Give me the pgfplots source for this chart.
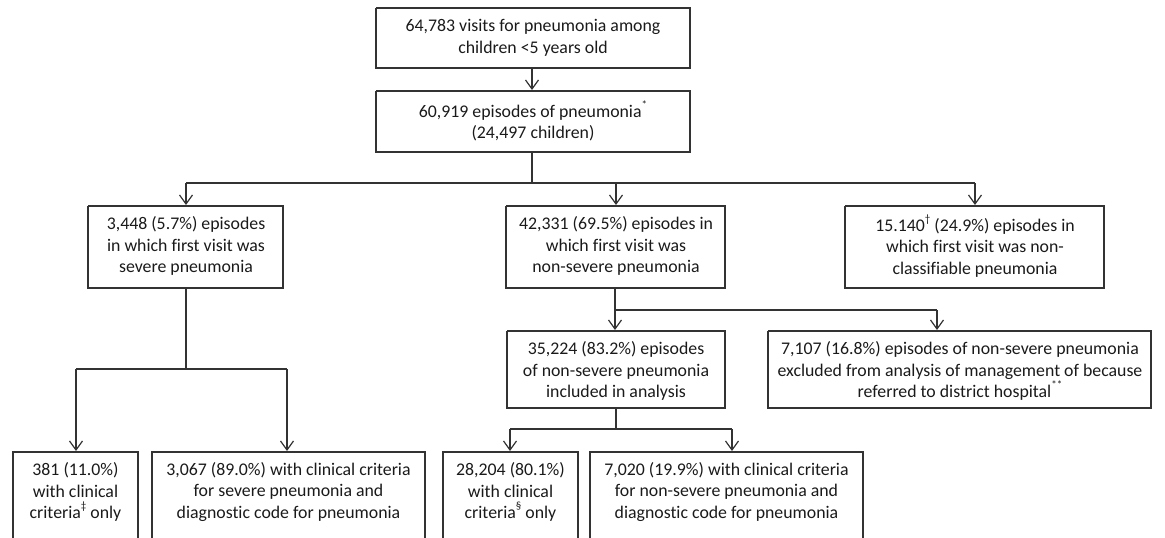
\documentclass[border=0pt]{standalone}
\usepackage{fontspec}
\setmainfont{Carlito}[Ligatures=NoCommon]
\usepackage{pgfplots}
\pgfplotsset{compat=1.18}
\usetikzlibrary{arrows.meta}
\definecolor{ln}{HTML}{333333}
\definecolor{tx}{HTML}{1A1A1A}
\newcommand{\supmark}[1]{\raisebox{0.5em}{\fontsize{11}{11}\selectfont #1}}
\begin{document}
\begin{tikzpicture}[
  ln/.style={color=ln, line width=1.3pt, mark=none, solid, line join=miter},
  arr/.style={ln, -{Straight Barb[length=9pt,width=13pt,line width=1.2pt]}},
  txt/.style={align=center, text=tx, font=\fontsize{17.8}{21.5}\selectfont, inner sep=0pt},
]
\begin{axis}[
  scale only axis, width=1165pt, height=538pt,
  xmin=0, xmax=1165, ymin=0, ymax=538, y dir=reverse,
  hide axis, clip=false,
]
% boxes
\addplot[ln] coordinates {(376,8) (690,8) (690,68) (376,68) (376,8)};
\addplot[ln] coordinates {(376,91) (690,91) (690,152) (376,152) (376,91)};
\addplot[ln] coordinates {(88,206) (283,206) (283,288) (88,288) (88,206)};
\addplot[ln] coordinates {(506,206) (725,206) (725,288) (506,288) (506,206)};
\addplot[ln] coordinates {(845,206) (1104,206) (1104,288) (845,288) (845,206)};
\addplot[ln] coordinates {(507,331) (725,331) (725,408) (507,408) (507,331)};
\addplot[ln] coordinates {(768,331) (1151,331) (1151,408) (768,408) (768,331)};
\addplot[ln] coordinates {(13,570) (13,452) (138,452) (138,570)};
\addplot[ln] coordinates {(152,570) (152,452) (425,452) (425,570)};
\addplot[ln] coordinates {(443,570) (443,452) (578,452) (578,570)};
\addplot[ln] coordinates {(590,570) (590,452) (863,452) (863,570)};
% connectors
\addplot[arr] coordinates {(532,68) (532,90)};
\addplot[ln] coordinates {(532,152) (532,183)};
\addplot[ln] coordinates {(186,183) (975,183)};
\addplot[arr] coordinates {(186,183) (186,205)};
\addplot[arr] coordinates {(616,183) (616,205)};
\addplot[arr] coordinates {(975,183) (975,205)};
\addplot[ln] coordinates {(186,288) (186,369)};
\addplot[ln] coordinates {(76,369) (287,369)};
\addplot[arr] coordinates {(76,369) (76,451)};
\addplot[arr] coordinates {(287,369) (287,451)};
\addplot[ln] coordinates {(615,288) (615,310)};
\addplot[ln] coordinates {(615,310) (937,310)};
\addplot[arr] coordinates {(615,310) (615,330)};
\addplot[arr] coordinates {(937,310) (937,330)};
\addplot[ln] coordinates {(616,408) (616,429)};
\addplot[ln] coordinates {(510,429) (732,429)};
\addplot[arr] coordinates {(510,429) (510,451)};
\addplot[arr] coordinates {(732,429) (732,451)};
% texts
\node[txt] at (axis cs:533,38) {64,783 visits for pneumonia among\\children <5 years old};
\node[txt] at (axis cs:533,121) {60,919 episodes of pneumonia\supmark{*}\\(24,497 children)};
\node[txt] at (axis cs:186,246) {3,448 (5.7\%) episodes\\in which first visit was\\severe pneumonia};
\node[txt] at (axis cs:616,246) {42,331 (69.5\%) episodes in\\which first visit was\\non-severe pneumonia};
\node[txt] at (axis cs:975,246) {15.140\supmark{†} (24.9\%) episodes in\\which first visit was non-\\classifiable pneumonia};
\node[txt] at (axis cs:616,371) {35,224 (83.2\%) episodes\\of non-severe pneumonia\\included in analysis};
\node[txt] at (axis cs:960,371) {7,107 (16.8\%) episodes of non-severe pneumonia\\excluded from analysis of management of because\\referred to district hospital\supmark{**}};
\node[txt] at (axis cs:75.5,492) {381 (11.0\%)\\with clinical\\criteria\supmark{‡} only};
\node[txt] at (axis cs:288.5,492) {3,067 (89.0\%) with clinical criteria\\for severe pneumonia and\\diagnostic code for pneumonia};
\node[txt] at (axis cs:510.5,492) {28,204 (80.1\%)\\with clinical\\criteria\supmark{§} only};
\node[txt] at (axis cs:726.5,492) {7,020 (19.9\%) with clinical criteria\\for non-severe pneumonia and\\diagnostic code for pneumonia};
\end{axis}
\pgfresetboundingbox
\path[use as bounding box] (0,0) rectangle (1165pt,538pt);
\end{tikzpicture}
\end{document}
